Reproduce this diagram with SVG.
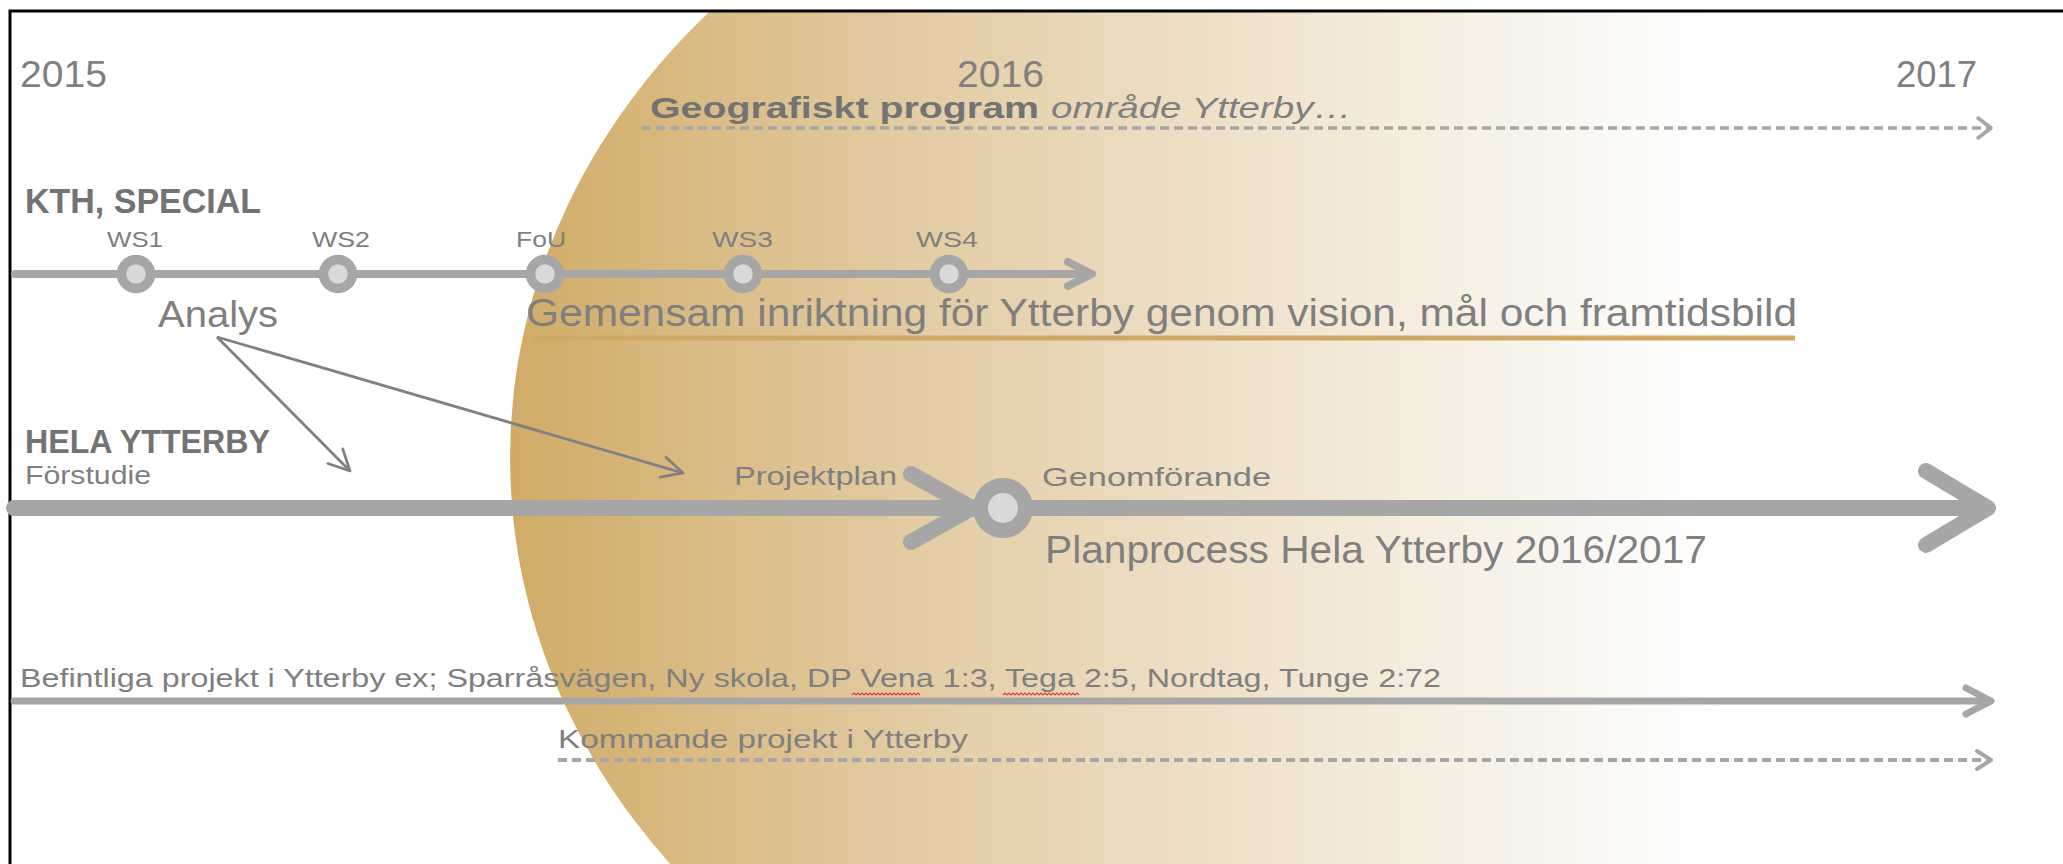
<svg xmlns="http://www.w3.org/2000/svg" width="2063" height="864" viewBox="0 0 2063 864">
<style>
.t{font-family:"Liberation Sans",Arial,sans-serif;fill:#7f7f7f}
.b{font-weight:bold;fill:#737373}
.ln{fill:none;stroke:#a6a6a6;stroke-linecap:round;stroke-linejoin:round}
.ring{fill:#d9d9d9;stroke:#a6a6a6}
.dash{fill:none;stroke:#a6a6a6;stroke-dasharray:9 5}
.thin{fill:none;stroke:#808080;stroke-width:2.8}
.sq{fill:none;stroke:#e03a3a;stroke-width:1.2}
</style>
<defs>
<linearGradient id="gold" gradientUnits="userSpaceOnUse" x1="510" y1="0" x2="1720" y2="0">
<stop offset="0" stop-color="#d1ab66"/>
<stop offset="0.3" stop-color="#e1c99e"/>
<stop offset="0.6" stop-color="#efe2cb"/>
<stop offset="0.88" stop-color="#faf7f1"/>
<stop offset="1" stop-color="#ffffff"/>
</linearGradient>
<clipPath id="frame"><rect x="10" y="11" width="2053" height="853"/></clipPath>
<marker id="oa" viewBox="0 0 12 12" refX="11" refY="6" markerWidth="25" markerHeight="25" markerUnits="userSpaceOnUse" orient="auto">
<path d="M1,1 L11,6 L1,11" fill="none" stroke="#808080" stroke-width="1.3" stroke-linecap="round" stroke-linejoin="round"/>
</marker>
</defs>
<rect width="2063" height="864" fill="#ffffff"/>
<g id="background">
<ellipse cx="1262" cy="458" rx="752" ry="658" fill="url(#gold)" clip-path="url(#frame)"/>
<path d="M10,864 V11 H2063" fill="none" stroke="#000" stroke-width="3"/>
</g>
<g id="years">
<text class="t" x="20" y="87" font-size="36" textLength="87" lengthAdjust="spacingAndGlyphs">2015</text>
<text class="t" x="957" y="87" font-size="36" textLength="87" lengthAdjust="spacingAndGlyphs">2016</text>
<text class="t" x="1896" y="87" font-size="36" textLength="81" lengthAdjust="spacingAndGlyphs">2017</text>
</g>
<g id="connectors">
<line class="dash" x1="642" y1="128" x2="1988" y2="128" stroke-width="3.5"/>
<polyline class="ln" points="1978,118 1991,128 1978,138" stroke-width="3.5"/>
<line class="ln" x1="15" y1="274" x2="1088" y2="274" stroke-width="8"/>
<polyline class="ln" points="1068,262 1092,274 1068,286" stroke-width="8"/>
<rect x="533" y="335.5" width="1262" height="5" fill="#cfa866"/>
<line class="thin" x1="217" y1="337" x2="350" y2="471" marker-end="url(#oa)"/>
<line class="thin" x1="217" y1="337" x2="683" y2="473" marker-end="url(#oa)"/>
<line class="ln" x1="14" y1="508" x2="1980" y2="508" stroke-width="16" stroke-linecap="butt"/>
<polyline class="ln" points="911,474 972,508 911,542" stroke-width="16"/>
<polyline class="ln" points="1926,471 1988,508 1926,545" stroke-width="16"/>
<line class="ln" x1="14" y1="701" x2="1985" y2="701" stroke-width="7" stroke-linecap="butt"/>
<polyline class="ln" points="1966,688 1991,701 1966,714" stroke-width="7"/>
<line class="dash" x1="558" y1="760" x2="1988" y2="760" stroke-width="4"/>
<polyline class="ln" points="1977,751 1991,760 1977,769" stroke-width="4"/>
</g>
<g id="geografiskt">
<text class="t b" x="650" y="118" font-size="30" textLength="389" lengthAdjust="spacingAndGlyphs" fill="#7a7a7a">Geografiskt program</text>
<text class="t" x="1051" y="118" font-size="30" font-style="italic" textLength="301" lengthAdjust="spacingAndGlyphs">område Ytterby…</text>
</g>
<g id="kth">
<text class="t b" x="25" y="213" font-size="35" textLength="236" lengthAdjust="spacingAndGlyphs">KTH, SPECIAL</text>
</g>
<g id="ws1"><circle class="ring" cx="136" cy="274" r="14.5" stroke-width="9.5"/><text class="t" x="107" y="247" font-size="22" textLength="56" lengthAdjust="spacingAndGlyphs">WS1</text></g>
<g id="ws2"><circle class="ring" cx="338" cy="274" r="14.5" stroke-width="9.5"/><text class="t" x="312" y="247" font-size="22" textLength="58" lengthAdjust="spacingAndGlyphs">WS2</text></g>
<g id="fou"><circle class="ring" cx="545" cy="274" r="14.5" stroke-width="9.5"/><text class="t" x="516" y="247" font-size="22" textLength="50" lengthAdjust="spacingAndGlyphs">FoU</text></g>
<g id="ws3"><circle class="ring" cx="743" cy="274" r="14.5" stroke-width="9.5"/><text class="t" x="712" y="247" font-size="22" textLength="61" lengthAdjust="spacingAndGlyphs">WS3</text></g>
<g id="ws4"><circle class="ring" cx="949" cy="274" r="14.5" stroke-width="9.5"/><text class="t" x="916" y="247" font-size="22" textLength="62" lengthAdjust="spacingAndGlyphs">WS4</text></g>
<g id="analys">
<text class="t" x="158" y="327" font-size="37" textLength="120" lengthAdjust="spacingAndGlyphs">Analys</text>
</g>
<g id="gemensam">
<text class="t" x="526" y="326" font-size="38" textLength="1271" lengthAdjust="spacingAndGlyphs">Gemensam inriktning för Ytterby genom vision, mål och framtidsbild</text>
</g>
<g id="hela">
<text class="t b" x="25" y="453" font-size="34" textLength="245" lengthAdjust="spacingAndGlyphs">HELA YTTERBY</text>
<text class="t" x="25" y="484" font-size="26" textLength="126" lengthAdjust="spacingAndGlyphs">Förstudie</text>
</g>
<g id="projektplan">
<text class="t" x="734" y="485" font-size="26" textLength="163" lengthAdjust="spacingAndGlyphs">Projektplan</text>
</g>
<g id="genomforande">
<circle class="ring" cx="1003" cy="508" r="22.5" stroke-width="15"/>
<text class="t" x="1042" y="486" font-size="26" textLength="229" lengthAdjust="spacingAndGlyphs">Genomförande</text>
<text class="t" x="1045" y="563" font-size="38" textLength="662" lengthAdjust="spacingAndGlyphs">Planprocess Hela Ytterby 2016/2017</text>
</g>
<g id="befintliga">
<text class="t" x="20" y="687" font-size="26" textLength="1421" lengthAdjust="spacingAndGlyphs">Befintliga projekt i Ytterby ex; Sparråsvägen, Ny skola, DP Vena 1:3, Tega 2:5, Nordtag, Tunge 2:72</text>
<polyline class="sq" points="852,695 854,693 856,695 858,693 860,695 862,693 864,695 866,693 868,695 870,693 872,695 874,693 876,695 878,693 880,695 882,693 884,695 886,693 888,695 890,693 892,695 894,693 896,695 898,693 900,695 902,693 904,695 906,693 908,695 910,693 912,695 914,693 916,695 918,693 920,695"/>
<polyline class="sq" points="1003,695 1005,693 1007,695 1009,693 1011,695 1013,693 1015,695 1017,693 1019,695 1021,693 1023,695 1025,693 1027,695 1029,693 1031,695 1033,693 1035,695 1037,693 1039,695 1041,693 1043,695 1045,693 1047,695 1049,693 1051,695 1053,693 1055,695 1057,693 1059,695 1061,693 1063,695 1065,693 1067,695 1069,693 1071,695 1073,693 1075,695 1077,693 1079,695"/>
</g>
<g id="kommande">
<text class="t" x="558" y="748" font-size="26" textLength="410" lengthAdjust="spacingAndGlyphs">Kommande projekt i Ytterby</text>
</g>
</svg>
